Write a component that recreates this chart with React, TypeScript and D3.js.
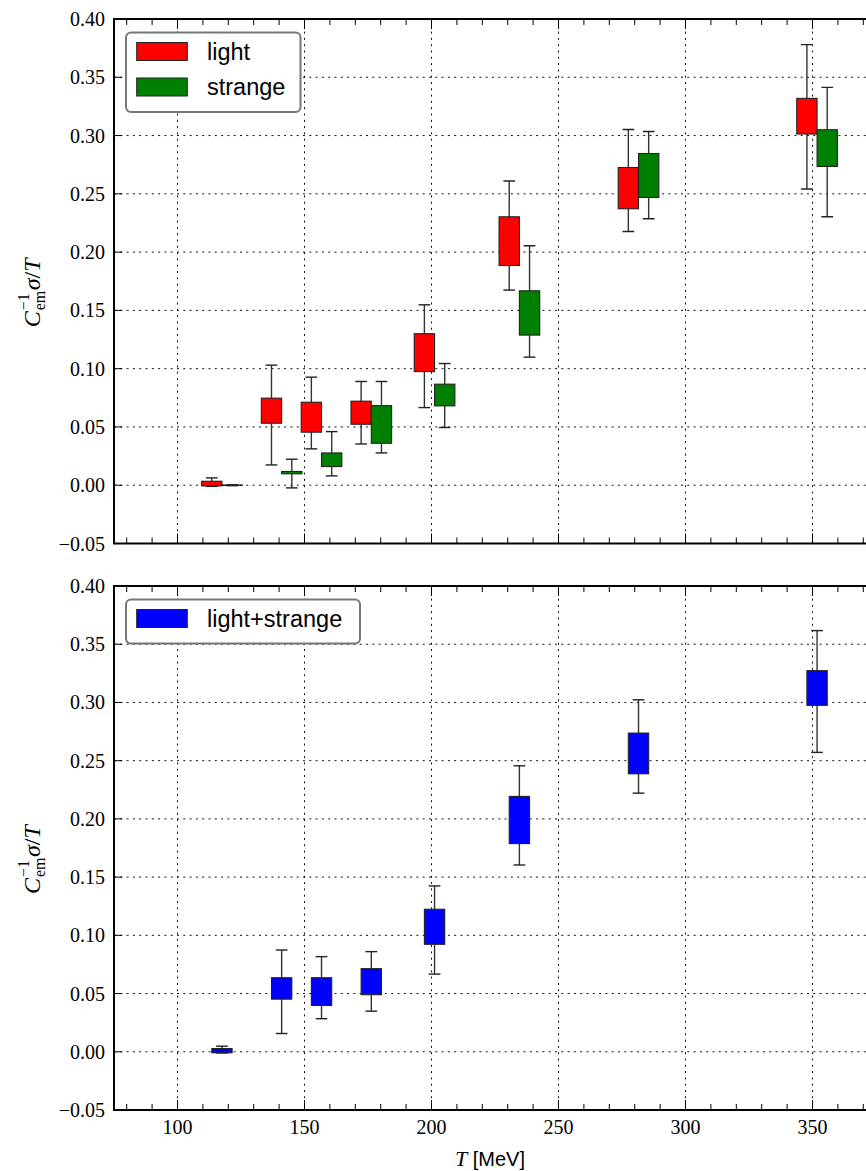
import React from "react";
import * as d3 from "d3";

// ---- data ----
const temps = [117.5, 141, 156.7, 176.3, 201.2, 234.6, 281.5, 351.8];

const lightLow = [-0.001, 0.0174, 0.0312, 0.0354, 0.0666, 0.1674, 0.2177, 0.2541];
const lightQ1 = [-0.0006, 0.0532, 0.0455, 0.0523, 0.0975, 0.1885, 0.2372, 0.3013];
const lightQ3 = [0.0034, 0.0747, 0.0712, 0.0721, 0.13, 0.2303, 0.2726, 0.3319];
const lightHigh = [0.0063, 0.103, 0.0927, 0.089, 0.1548, 0.261, 0.3052, 0.378];

const strangeLow = [-0.0004, -0.0023, 0.008, 0.0277, 0.0495, 0.1099, 0.2286, 0.2303];
const strangeQ1 = [-0.0002, 0.0098, 0.016, 0.036, 0.0681, 0.1288, 0.2469, 0.2735];
const strangeQ3 = [0.0002, 0.0118, 0.0277, 0.0683, 0.0867, 0.1668, 0.2846, 0.305];
const strangeHigh = [0.0004, 0.0223, 0.046, 0.089, 0.1044, 0.2054, 0.3035, 0.3413];

const bothLow = [-0.001, 0.0157, 0.0284, 0.0349, 0.0667, 0.1604, 0.2221, 0.2571];
const bothQ1 = [-0.0009, 0.0452, 0.0398, 0.049, 0.0923, 0.1788, 0.2387, 0.2975];
const bothQ3 = [0.0028, 0.0636, 0.0636, 0.0714, 0.1224, 0.2193, 0.2737, 0.3273];
const bothHigh = [0.0048, 0.0874, 0.0817, 0.086, 0.1424, 0.2456, 0.3023, 0.3617];

const yTicks = [-0.05, 0, 0.05, 0.1, 0.15, 0.2, 0.25, 0.3, 0.35, 0.4];
const xMajor = [100, 150, 200, 250, 300, 350];
const xMinor = d3.range(80, 375, 10);

const W = 866;
const H = 1171;
const X0 = 114;
const X1 = 876;

const x = d3.scaleLinear().domain([75, 375]).range([X0, X1]);

const SERIF = "'Liberation Serif', 'DejaVu Serif', serif";
const SANS = "'Liberation Sans', Arial, sans-serif";

const fmt = (v: number) => {
  const s = Math.abs(v).toFixed(2);
  return v < -1e-9 ? "\u2212" + s : s;
};

type BoxSet = { low: number[]; q1: number[]; q3: number[]; high: number[]; color: string; offset: number };

function Boxes({ y, set, id }: { y: d3.ScaleLinear<number, number>; set: BoxSet; id: string }) {
  const half = 4;
  const cap = 2.3;
  return (
    <g>
      {temps.map((t, i) => {
        const c = t + set.offset;
        const xl = x(c - half);
        const xr = x(c + half);
        const xc = x(c);
        const yq1 = y(set.q1[i]);
        const yq3 = y(set.q3[i]);
        const yl = y(set.low[i]);
        const yh = y(set.high[i]);
        return (
          <g key={id + i}>
            <line x1={xc} x2={xc} y1={yh} y2={yq3} stroke="#333" strokeWidth={1.4} />
            <line x1={xc} x2={xc} y1={yq1} y2={yl} stroke="#333" strokeWidth={1.4} />
            <line x1={x(c - cap)} x2={x(c + cap)} y1={yh} y2={yh} stroke="#222" strokeWidth={1.4} />
            <line x1={x(c - cap)} x2={x(c + cap)} y1={yl} y2={yl} stroke="#222" strokeWidth={1.4} />
            <rect
              x={xl}
              y={Math.min(yq1, yq3)}
              width={xr - xl}
              height={Math.max(Math.abs(yq1 - yq3), 0.3)}
              fill={set.color}
              stroke="#222"
              strokeWidth={1.1}
            />
          </g>
        );
      })}
    </g>
  );
}

function Panel({
  top,
  bottom,
  sets,
  legend,
  showXLabels,
  id,
}: {
  top: number;
  bottom: number;
  sets: BoxSet[];
  legend: { label: string; color: string }[];
  showXLabels: boolean;
  id: string;
}) {
  const y = d3.scaleLinear().domain([-0.05, 0.4]).range([bottom, top]);
  const legW = legend.length === 1 ? 234 : 174.5;
  const rowH = 35.5;
  const legH = legend.length * rowH + 8.5;
  const lx = 126;
  const ly = top + 13.5;
  const labelY = (top + bottom) / 2;
  return (
    <g>
      <defs>
        <clipPath id={"clip" + id}>
          <rect x={X0} y={top} width={X1 - X0} height={bottom - top} />
        </clipPath>
      </defs>
      {/* grid */}
      <g clipPath={`url(#clip${id})`}>
        {yTicks.map((v) => (
          <line key={"gy" + v} x1={X0} x2={X1} y1={y(v)} y2={y(v)} stroke="#111" strokeWidth={1} strokeDasharray="2,4.3" />
        ))}
        {xMajor.map((v) => (
          <line key={"gx" + v} x1={x(v)} x2={x(v)} y1={top} y2={bottom} stroke="#111" strokeWidth={1} strokeDasharray="2,4.3" />
        ))}
        {sets.map((s, k) => (
          <Boxes key={k} y={y} set={s} id={id + k} />
        ))}
      </g>
      {/* ticks */}
      {yTicks.map((v) => (
        <g key={"ty" + v}>
          <line x1={X0} x2={X0 + 8} y1={y(v)} y2={y(v)} stroke="#000" strokeWidth={1} />
          <line x1={X1} x2={X1 - 8} y1={y(v)} y2={y(v)} stroke="#000" strokeWidth={1} />
          <text
            x={X0 - 9}
            y={y(v)}
            textAnchor="end"
            dominantBaseline="central"
            fontFamily={SERIF}
            fontSize={20}
            fill="#000"
          >
            {fmt(v)}
          </text>
        </g>
      ))}
      {xMajor.map((v) => (
        <g key={"tx" + v}>
          <line x1={x(v)} x2={x(v)} y1={bottom} y2={bottom - 10} stroke="#000" strokeWidth={1} />
          <line x1={x(v)} x2={x(v)} y1={top} y2={top + 10} stroke="#000" strokeWidth={1} />
          {showXLabels && (
            <text x={x(v)} y={bottom + 24} textAnchor="middle" fontFamily={SERIF} fontSize={20} fill="#000">
              {v}
            </text>
          )}
        </g>
      ))}
      {xMinor
        .filter((v) => v % 50 !== 0)
        .map((v) => (
          <g key={"mx" + v}>
            <line x1={x(v)} x2={x(v)} y1={bottom} y2={bottom - 6} stroke="#000" strokeWidth={1} />
            <line x1={x(v)} x2={x(v)} y1={top} y2={top + 6} stroke="#000" strokeWidth={1} />
          </g>
        ))}
      {/* spines */}
      <rect x={X0} y={top} width={X1 - X0} height={bottom - top} fill="none" stroke="#000" strokeWidth={2} />
      {/* legend */}
      <rect x={lx} y={ly} width={legW} height={legH} rx={5} ry={5} fill="#fff" stroke="#777" strokeWidth={2} />
      {legend.map((l, i) => (
        <g key={"lg" + i}>
          <rect x={lx + 10.7} y={ly + 10 + i * rowH} width={50.6} height={18} fill={l.color} stroke="#222" strokeWidth={1} />
          <text
            x={lx + 81}
            y={ly + 19 + i * rowH}
            dominantBaseline="central"
            fontFamily={SANS}
            fontSize={23.5}
            fill="#000"
          >
            {l.label}
          </text>
        </g>
      ))}
      {/* y label */}
      <g transform={`translate(40, ${labelY}) rotate(-90)`} fontFamily={SERIF} fill="#000">
        <text x={-46} y={0} fontSize={24} fontStyle="italic">
          C
        </text>
        <text x={-29} y={-11} fontSize={16}>
          {"\u22121"}
        </text>
        <text x={-29} y={5} fontSize={16}>
          em
        </text>
        <text x={-9} y={0} fontSize={24}>
          <tspan fontStyle="italic">σ</tspan>
          <tspan>/</tspan>
          <tspan fontStyle="italic">T</tspan>
        </text>
      </g>
    </g>
  );
}

export default function App() {
  const light: BoxSet = { low: lightLow, q1: lightQ1, q3: lightQ3, high: lightHigh, color: "#ff0000", offset: -4 };
  const strange: BoxSet = { low: strangeLow, q1: strangeQ1, q3: strangeQ3, high: strangeHigh, color: "#008000", offset: 4 };
  const both: BoxSet = { low: bothLow, q1: bothQ1, q3: bothQ3, high: bothHigh, color: "#0000ff", offset: 0 };
  return (
    <svg
      width={W}
      height={H}
      viewBox={`0 0 ${W} ${H}`}
      style={{ position: "absolute", left: 0, top: 0, background: "#fff" }}
    >
      <rect x={0} y={0} width={W} height={H} fill="#fff" />
      <Panel
        id="a"
        top={19}
        bottom={543.5}
        sets={[light, strange]}
        legend={[
          { label: "light", color: "#ff0000" },
          { label: "strange", color: "#008000" },
        ]}
        showXLabels={false}
      />
      <Panel
        id="b"
        top={586}
        bottom={1110}
        sets={[both]}
        legend={[{ label: "light+strange", color: "#0000ff" }]}
        showXLabels={true}
      />
      <text x={490} y={1166} textAnchor="middle" fill="#000">
        <tspan fontFamily={SERIF} fontStyle="italic" fontSize={22}>T</tspan>
        <tspan fontFamily={SANS} fontSize={20}> [MeV]</tspan>
      </text>
    </svg>
  );
}
